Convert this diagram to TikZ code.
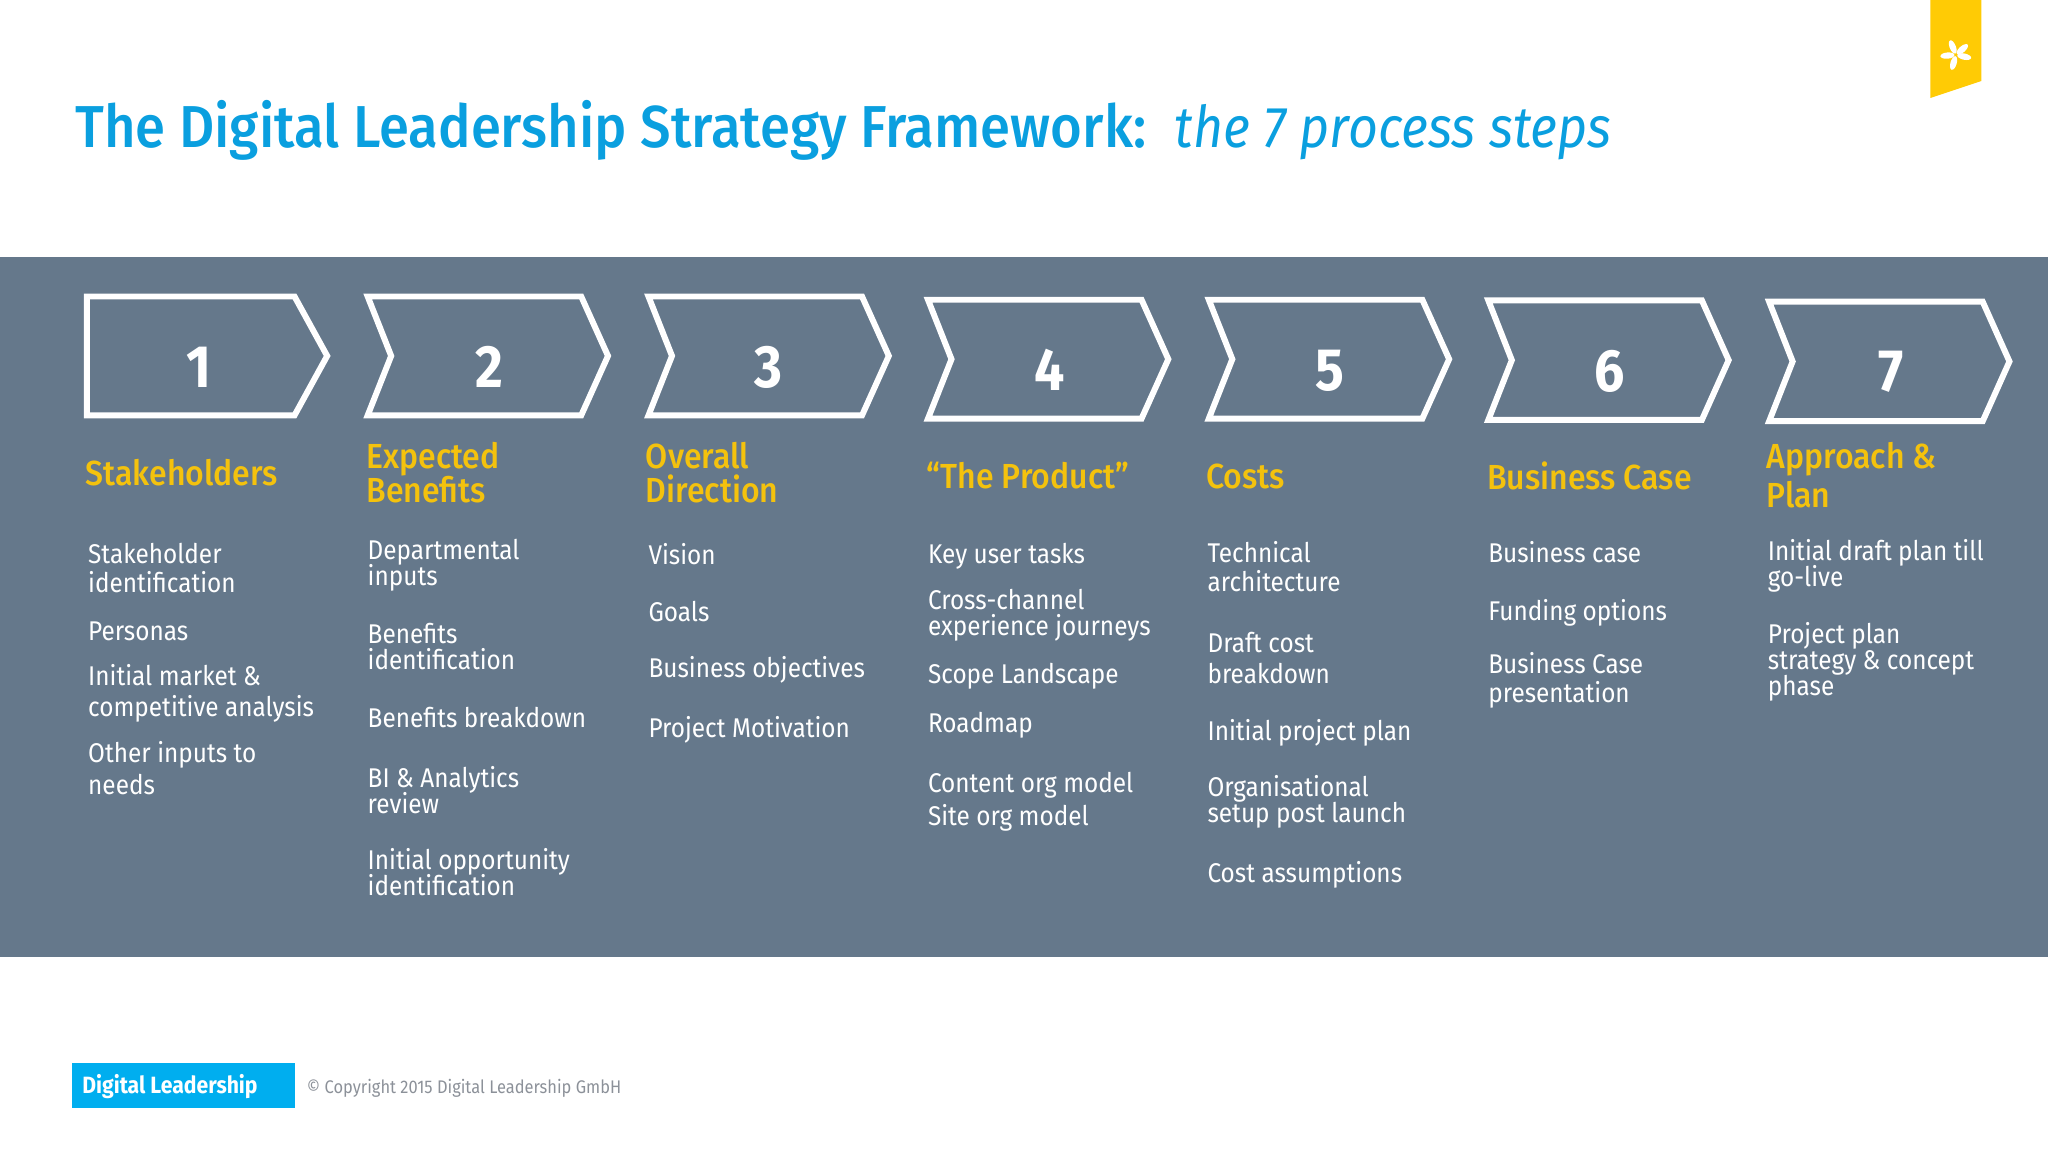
\documentclass[tikz,border=0pt]{standalone}
\usepackage{fontspec}
\setmainfont{Fira Sans}[FakeStretch=0.9]
\newfontfamily\mediumfont{Fira Sans Medium}[FakeStretch=0.92]
\usepackage{xcolor}
\definecolor{titleblue}{HTML}{0A9FDF}
\definecolor{bannerCol}{HTML}{65788B}
\definecolor{goldCol}{HTML}{F4C20D}
\definecolor{ribbonCol}{HTML}{FFCB05}
\definecolor{logoblue}{HTML}{00AEEF}
\definecolor{copyCol}{HTML}{8C9199}
\lineskiplimit=-20pt
\tikzset{
    item/.style={anchor=west, inner sep=0pt, align=left, text=white, font=\fontsize{7.7}{8.2}\selectfont},
    itemtight/.style={item, font=\fontsize{7.7}{7.4}\selectfont},
    itemloose/.style={item, font=\fontsize{7.7}{8.9}\selectfont},
    heading/.style={anchor=west, inner sep=0pt, align=left, text=goldCol, font=\fontsize{9.9}{9.7}\selectfont\mediumfont},
    stepnum/.style={inner sep=0pt, text=white, font=\fontsize{17}{17}\selectfont\bfseries},
    chevron/.style={draw=white, line width=1.7pt, miter limit=10},
}
\begin{document}
\begin{tikzpicture}[x=0.013061cm, y=-0.013061cm]
    \useasboundingbox (0,0) rectangle (1568,882);

    % Banner
    \fill[bannerCol] (0,197) rectangle (1568,733);

    % Ribbon with flower
    \fill[ribbonCol] (1478,0) -- (1517,0) -- (1517,62) -- (1478,75) -- cycle;
    \foreach \ang in {112, 41, -12, -106, -175} {
        \fill[white, rotate around={\ang:(1497.5,42)}] (1504,42) ellipse (5.4 and 2.4);
    }

    % Title
    \node[anchor=base west, inner sep=0pt, text=titleblue, font=\fontsize{16.84}{17}\selectfont\mediumfont] (title) at (57,113) {The Digital Leadership Strategy Framework:};
    \node[anchor=base west, inner sep=0pt, text=titleblue, font=\fontsize{16.4}{17}\selectfont\itshape] (subtitle) at (899,113) {the 7 process steps};

    % First step has a flat left side
    \draw[chevron] (66.5,227) -- (225.5,227) -- (250.5,272.5) -- (225.5,318) -- (66.5,318) -- cycle;
    \node[stepnum] (num1) at (152.5,281) {1};

    % Other steps
    \foreach \i/\xl/\yt/\yb/\xn/\yn in {2/278.5/227/318/374.5/281, 3/493.5/227/318/588.5/281, 4/707.5/229.5/320.5/803.5/283, 5/922.5/229.5/320.5/1018/284, 6/1136.5/230/321.5/1232.5/284, 7/1351.5/231/322.5/1447.5/285} {
        \pgfmathsetmacro{\ym}{(\yt+\yb)/2}
        \draw[chevron] (\xl+3,\yt) -- (\xl+166.5,\yt) -- (\xl+187,\ym) -- (\xl+166.5,\yb) -- (\xl+3,\yb) -- (\xl+21,\ym) -- cycle;
        \node[stepnum] (num\i) at (\xn,\yn) {\i};
    }

    % Headings
    \node[heading] (head1) at (65,362) {Stakeholders};
    \node[heading] (head2) at (280,362) {Expected\\Benefits};
    \node[heading] (head3) at (494,362) {Overall\\Direction};
    \node[heading] (head4) at (709,364) {“The Product”};
    \node[heading] (head5) at (923,365) {Costs};
    \node[heading] (head6) at (1138,364) {Business Case};
    \node[heading, font=\fontsize{9.9}{11.1}\selectfont\mediumfont] (head7) at (1352,364) {Approach \&\\Plan};

    % Step 1
    \node[item] (a1) at (67,435) {Stakeholder\\identification};
    \node[item] (a2) at (67,483) {Personas};
    \node[itemloose] (a3) at (67,531) {Initial market \&\\competitive analysis};
    \node[itemloose] (a4) at (67,588) {Other inputs to\\needs};

    % Step 2
    \node[itemtight] (b1) at (281,433) {Departmental\\inputs};
    \node[itemtight] (b2) at (281,495) {Benefits\\identification};
    \node[item] (b3) at (281,549) {Benefits breakdown};
    \node[itemtight] (b4) at (281,605) {BI \& Analytics\\review};
    \node[itemtight] (b5) at (281,668) {Initial opportunity\\identification};

    % Step 3
    \node[item] (c1) at (496,424) {Vision};
    \node[item] (c2) at (496,468) {Goals};
    \node[item] (c3) at (496,513) {Business objectives};
    \node[item] (c4) at (496,559) {Project Motivation};

    % Step 4
    \node[item] (d1) at (710,426) {Key user tasks};
    \node[itemtight] (d2) at (710,471) {Cross-channel\\experience journeys};
    \node[item] (d3) at (710,518) {Scope Landscape};
    \node[item] (d4) at (710,555) {Roadmap};
    \node[item] (d5) at (710,601) {Content org model};
    \node[item] (d6) at (710,626) {Site org model};

    % Step 5
    \node[item] (e1) at (924,434) {Technical\\architecture};
    \node[itemloose] (e2) at (924,504) {Draft cost\\breakdown};
    \node[item] (e3) at (924,561) {Initial project plan};
    \node[itemtight] (e4) at (924,614) {Organisational\\setup post launch};
    \node[item] (e5) at (924,670) {Cost assumptions};

    % Step 6
    \node[item] (f1) at (1139,423) {Business case};
    \node[item] (f2) at (1139,469) {Funding options};
    \node[item] (f3) at (1139,521) {Business Case\\presentation};

    % Step 7
    \node[itemtight] (g1) at (1353,433) {Initial draft plan till\\go-live};
    \node[itemtight] (g2) at (1353,507) {Project plan\\strategy \& concept\\phase};

    % Footer
    \node[anchor=north west, minimum width=171*0.013061cm, minimum height=35*0.013061cm, inner sep=0pt, fill=logoblue] (logo) at (54.5,813) {};
    \node[anchor=west, inner sep=0pt, text=white, font=\fontsize{6.7}{7}\selectfont\bfseries] (logotext) at (62.5,832) {Digital Leadership};
    \node[anchor=west, inner sep=0pt, text=copyCol, font=\fontsize{5.2}{5}\selectfont] (copy) at (234.5,833) {© Copyright 2015 Digital Leadership GmbH};
\end{tikzpicture}
\end{document}
